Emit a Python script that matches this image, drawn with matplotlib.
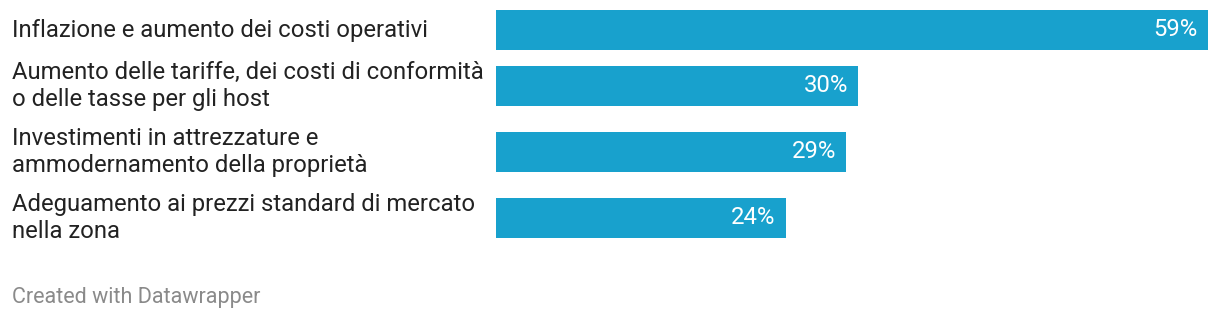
import matplotlib; matplotlib.use("Agg")
import matplotlib.pyplot as plt

labels = ["Inflazione e aumento dei costi operativi",
          "Aumento delle tariffe, dei costi di conformità\no delle tasse per gli host",
          "Investimenti in attrezzature e\nammodernamento della proprietà",
          "Adeguamento ai prezzi standard di mercato\nnella zona"]
values = [59, 30, 29, 24]
value_labels = ["59%", "30%", "29%", "24%"]

W, H = 1220, 324
BLUE = "#18a1cd"
plt.rcParams["font.family"] = ["Roboto", "DejaVu Sans"]

fig = plt.figure(figsize=(W/100, H/100), dpi=100)
# bars live in an axes whose y unit is one pixel, x unit is one percent
x0, x1 = 496, 1208
ax = fig.add_axes([x0/W, 0, (x1-x0)/W, 1])
ax.set_xlim(0, max(values)); ax.set_ylim(H, 0); ax.axis("off")

# row heights follow the number of label lines (Datawrapper-style)
centers, top = [], 0
for lab in labels:
    centers.append(top + 30)
    top += 56 if lab.count("\n") == 0 else 66

ax.barh(centers, values, height=40, color=BLUE, edgecolor="none")
for c, v, t in zip(centers, values, value_labels):
    ax.annotate(t, (v, c), xytext=(-10, 0), textcoords="offset pixels", ha="right", va="center",
                color="white", fontsize=17.2)
for c, lab in zip(centers, labels):
    fig.text(12/W, 1 - c/H, lab, ha="left", va="center", fontsize=17.2, color="#222222", linespacing=1.2)

fig.text(12/W, 1 - 298/H, "Created with Datawrapper", ha="left", va="center", fontsize=15.5, color="#8a8a8a")
fig.savefig("out.png", dpi=100)
